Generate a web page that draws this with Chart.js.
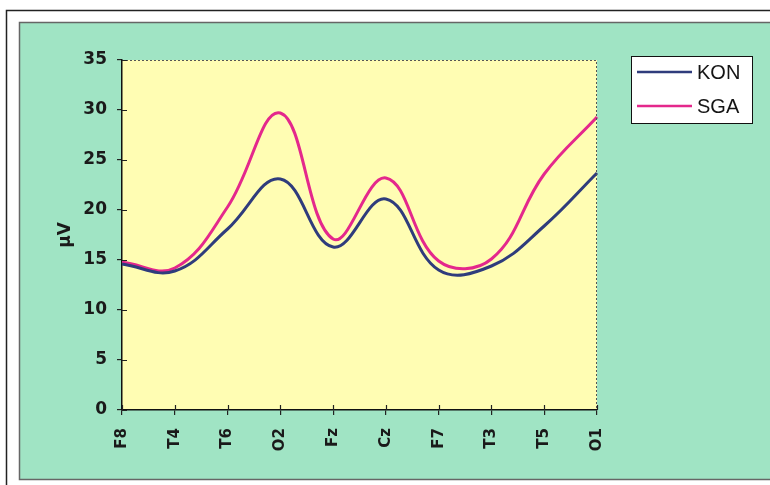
<!DOCTYPE html>
<html>
<head>
<meta charset="utf-8">
<script src="https://cdn.jsdelivr.net/npm/chart.js@4.4.1/dist/chart.umd.min.js"></script>
<style>
  html, body { margin: 0; padding: 0; background: #fff; }
  #c { display: block; }
</style>
</head>
<body>
<canvas id="c" width="770" height="485"></canvas>
<script>
// electrode positions on the x axis
const electrodes = ['F8', 'T4', 'T6', 'O2', 'Fz', 'Cz', 'F7', 'T3', 'T5', 'O1'];
// amplitudes in µV
const konValues = [14.6, 13.9, 18.1, 23.1, 16.3, 21.1, 14.0, 14.4, 18.4, 23.7];
const sgaValues = [14.8, 14.2, 20.3, 29.7, 17.1, 23.2, 14.9, 15.1, 23.6, 29.3];
const yTicks = [0, 5, 10, 15, 20, 25, 30, 35];

const GREEN = '#a0e4c4';
const YELLOW = '#fffdb3';
const KON_COLOR = '#2f3c7c';
const SGA_COLOR = '#e4288c';

// paints the frame, the green panel and the yellow plot area
const backdrop = {
    id: 'backdrop',
    beforeDraw: (chart) => {
        const ctx = chart.ctx;
        const a = chart.chartArea;
        ctx.save();
        ctx.fillStyle = '#fff';
        ctx.fillRect(0, 0, chart.width, chart.height);
        ctx.strokeStyle = '#222';
        ctx.lineWidth = 1.5;
        ctx.strokeRect(6.5, 10.5, 800, 500);
        ctx.fillStyle = GREEN;
        ctx.fillRect(19, 22, 800, 457);
        ctx.strokeStyle = '#666';
        ctx.lineWidth = 1.5;
        ctx.strokeRect(19.5, 22.5, 800, 457);
        ctx.fillStyle = YELLOW;
        ctx.fillRect(a.left, a.top, a.right - a.left, a.bottom - a.top);
        ctx.restore();
    }
};

// dotted border top/right, inner half of the tick marks, and the legend box
const extras = {
    id: 'extras',
    afterDraw: (chart) => {
        const ctx = chart.ctx;
        const a = chart.chartArea;
        const xs = chart.scales.x, ys = chart.scales.y;
        ctx.save();
        ctx.strokeStyle = '#555';
        ctx.lineWidth = 1;
        ctx.setLineDash([2, 2]);
        ctx.beginPath();
        ctx.moveTo(a.left, a.top + 0.5);
        ctx.lineTo(a.right - 0.5, a.top + 0.5);
        ctx.lineTo(a.right - 0.5, a.bottom);
        ctx.stroke();
        ctx.setLineDash([]);

        ctx.strokeStyle = '#222';
        ctx.lineWidth = 1.2;
        ctx.beginPath();
        yTicks.forEach(v => {
            const y = Math.round(ys.getPixelForValue(v)) + 0.5;
            ctx.moveTo(a.left, y);
            ctx.lineTo(a.left + 5, y);
        });
        electrodes.forEach((e, i) => {
            const x = Math.round(xs.getPixelForValue(i)) + 0.5;
            ctx.moveTo(x, a.bottom);
            ctx.lineTo(x, a.bottom - 5);
        });
        ctx.stroke();

        // legend
        ctx.fillStyle = '#fff';
        ctx.fillRect(631, 56, 121, 67);
        ctx.strokeStyle = '#111';
        ctx.lineWidth = 1;
        ctx.strokeRect(631.5, 56.5, 121, 67);
        ctx.font = '20px "Liberation Sans", Arial, sans-serif';
        ctx.textBaseline = 'middle';
        const rows = [72, 106];
        chart.data.datasets.forEach((ds, i) => {
            ctx.strokeStyle = ds.borderColor;
            ctx.lineWidth = 2.5;
            ctx.beginPath();
            ctx.moveTo(637, rows[i]);
            ctx.lineTo(692, rows[i]);
            ctx.stroke();
            ctx.fillStyle = '#151515';
            ctx.fillText(ds.label, 697, rows[i] + 1);
        });
        ctx.restore();
    }
};

const tickFont = { family: '"DejaVu Sans", sans-serif', weight: 'bold' };

new Chart(document.getElementById('c'), {
    type: 'line',
    data: {
        labels: electrodes,
        datasets: [
            { label: 'KON', data: konValues, borderColor: KON_COLOR, borderWidth: 3, pointRadius: 0, tension: 0.4, fill: false },
            { label: 'SGA', data: sgaValues, borderColor: SGA_COLOR, borderWidth: 3, pointRadius: 0, tension: 0.4, fill: false }
        ]
    },
    options: {
        responsive: false,
        animation: false,
        devicePixelRatio: 1,
        layout: { padding: { top: 60, right: 173, left: 0, bottom: 0 } },
        plugins: { legend: { display: false }, tooltip: { enabled: false } },
        scales: {
            x: {
                offset: false,
                grid: { display: true, drawOnChartArea: false, drawTicks: true, tickLength: 5, color: '#222', lineWidth: 1.2 },
                border: { display: true, color: '#111', width: 1.5 },
                ticks: {
                    autoSkip: false, minRotation: 90, maxRotation: 90, padding: 13,
                    color: '#1a1a1a', font: { ...tickFont, size: 15 }
                },
                afterFit: (s) => { s.height = 75; }
            },
            y: {
                min: 0, max: 35,
                afterBuildTicks: (s) => { s.ticks = yTicks.map(v => ({ value: v })); },
                grid: { display: true, drawOnChartArea: false, drawTicks: true, tickLength: 5, color: '#222', lineWidth: 1.2 },
                border: { display: true, color: '#111', width: 1.5 },
                ticks: { padding: 10, color: '#1a1a1a', font: { ...tickFont, size: 17 } },
                title: {
                    display: true, text: 'µV', color: '#1a1a1a',
                    font: { ...tickFont, size: 17 },
                    padding: { top: 55, bottom: 0 }
                },
                afterFit: (s) => { s.width = 122; }
            }
        }
    },
    plugins: [backdrop, extras]
});
</script>
</body>
</html>
